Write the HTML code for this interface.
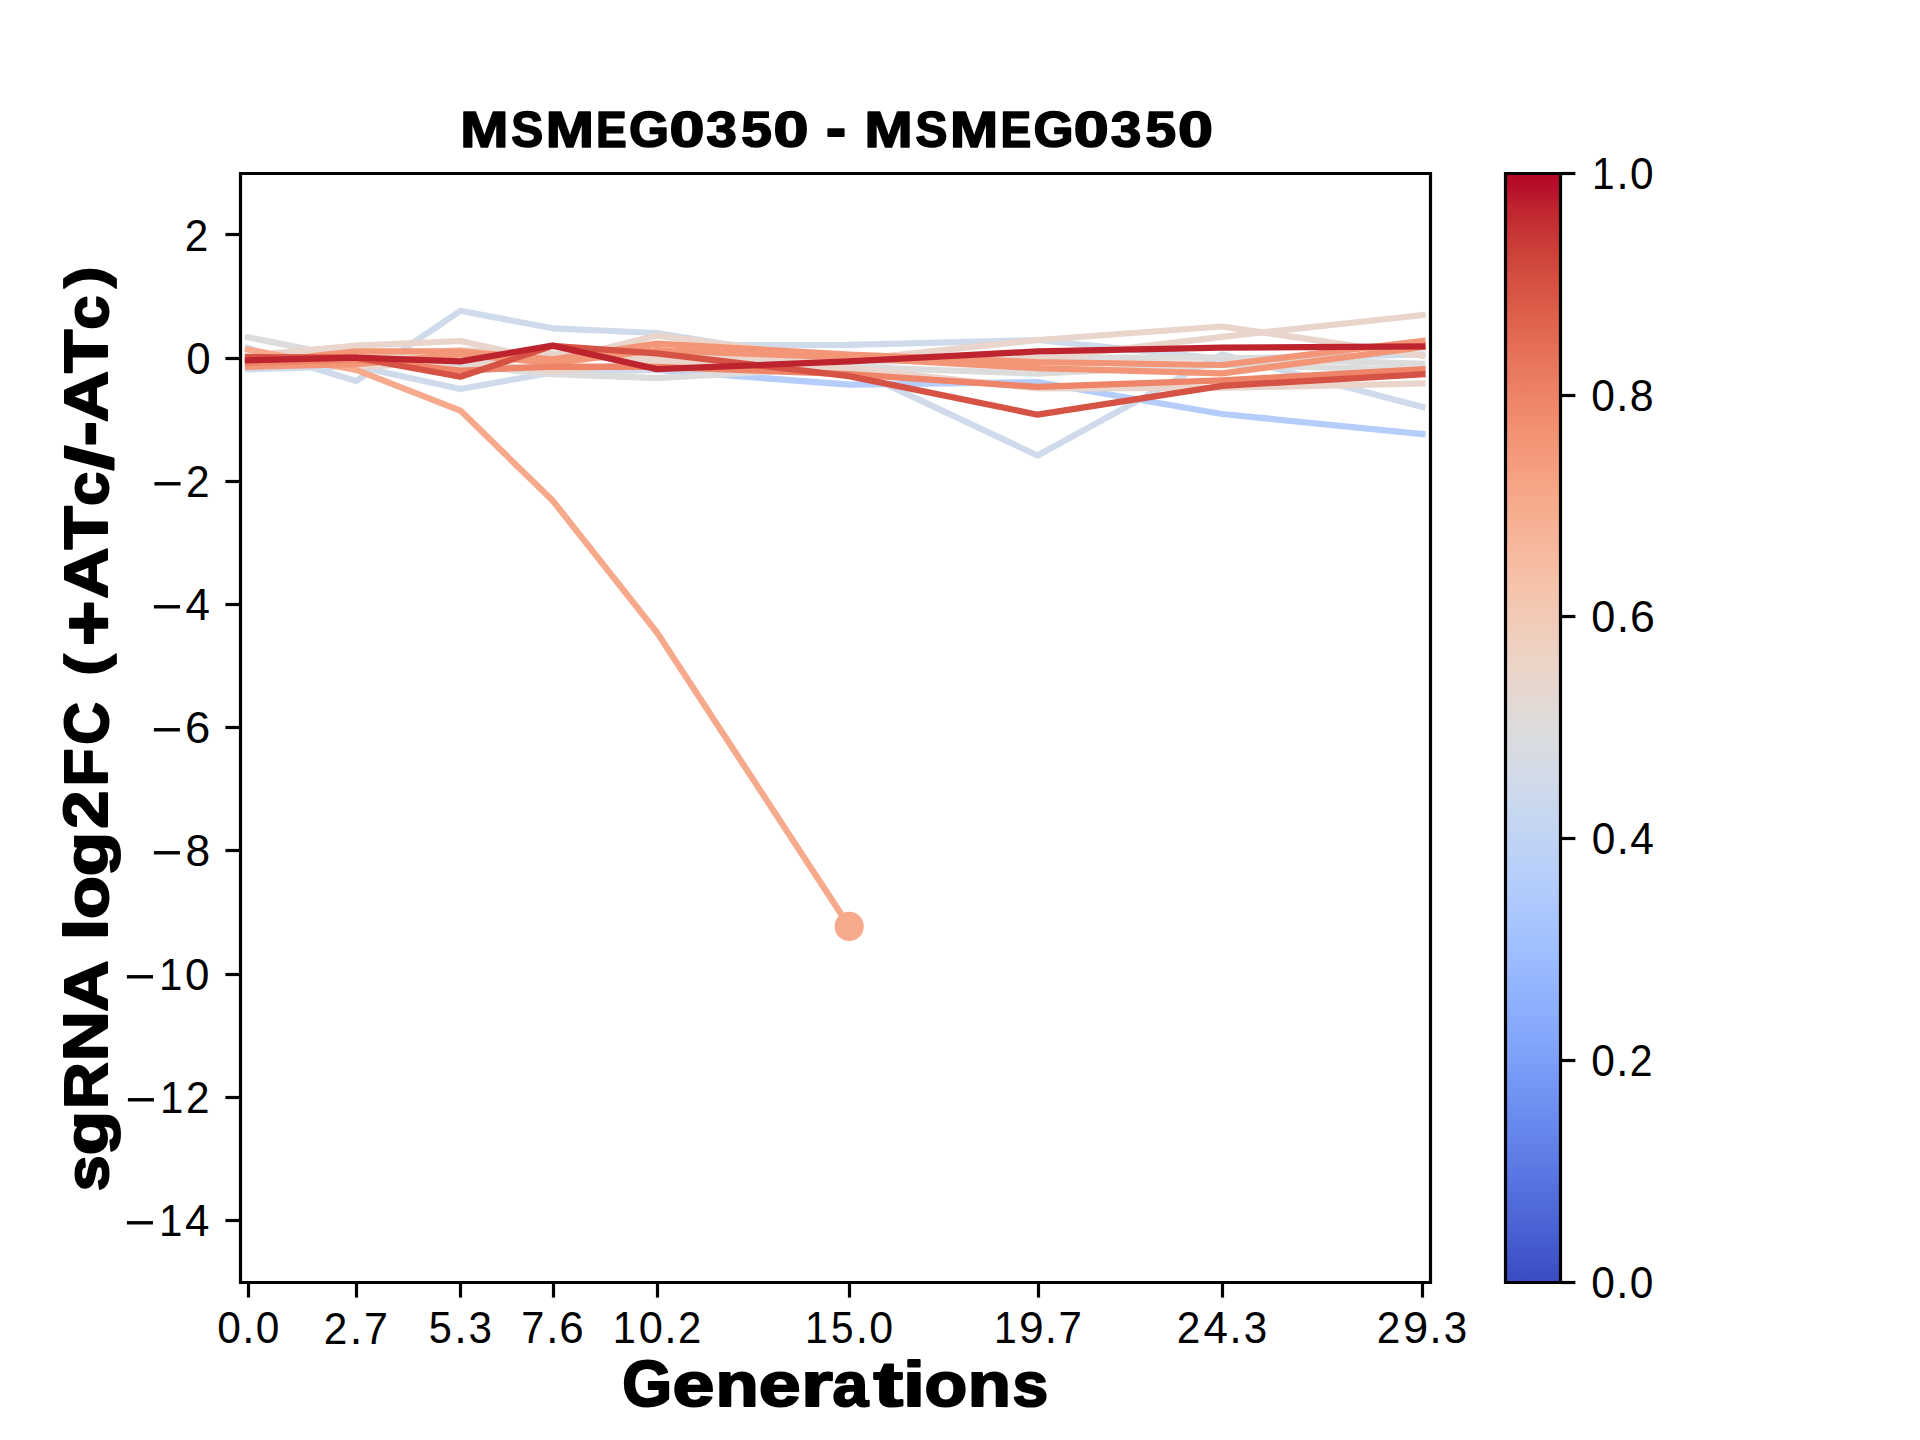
<!DOCTYPE html><html><head><meta charset="utf-8"><title>MSMEG0350</title><style>html,body{margin:0;padding:0;background:#fff;width:1920px;height:1440px;overflow:hidden;}svg{display:block;}</style></head><body><svg width="1920" height="1440" viewBox="0 0 1920 1440">
<defs><linearGradient id="cb" x1="0" y1="1" x2="0" y2="0">
<stop offset="0.0000" stop-color="#3b4cc0"/>
<stop offset="0.0156" stop-color="#3f53c6"/>
<stop offset="0.0312" stop-color="#445acc"/>
<stop offset="0.0469" stop-color="#4961d2"/>
<stop offset="0.0625" stop-color="#4e68d8"/>
<stop offset="0.0781" stop-color="#536edd"/>
<stop offset="0.0938" stop-color="#5875e1"/>
<stop offset="0.1094" stop-color="#5d7ce6"/>
<stop offset="0.1250" stop-color="#6282ea"/>
<stop offset="0.1406" stop-color="#6788ee"/>
<stop offset="0.1562" stop-color="#6c8ff1"/>
<stop offset="0.1719" stop-color="#7295f4"/>
<stop offset="0.1875" stop-color="#779af7"/>
<stop offset="0.2031" stop-color="#7da0f9"/>
<stop offset="0.2188" stop-color="#82a6fb"/>
<stop offset="0.2344" stop-color="#88abfd"/>
<stop offset="0.2500" stop-color="#8db0fe"/>
<stop offset="0.2656" stop-color="#93b5fe"/>
<stop offset="0.2812" stop-color="#98b9ff"/>
<stop offset="0.2969" stop-color="#9ebeff"/>
<stop offset="0.3125" stop-color="#a3c2fe"/>
<stop offset="0.3281" stop-color="#a9c6fd"/>
<stop offset="0.3438" stop-color="#aec9fc"/>
<stop offset="0.3594" stop-color="#b3cdfb"/>
<stop offset="0.3750" stop-color="#b9d0f9"/>
<stop offset="0.3906" stop-color="#bed2f6"/>
<stop offset="0.4062" stop-color="#c3d5f4"/>
<stop offset="0.4219" stop-color="#c7d7f0"/>
<stop offset="0.4375" stop-color="#ccd9ed"/>
<stop offset="0.4531" stop-color="#d1dae9"/>
<stop offset="0.4688" stop-color="#d5dbe5"/>
<stop offset="0.4844" stop-color="#d9dce1"/>
<stop offset="0.5000" stop-color="#dddcdc"/>
<stop offset="0.5156" stop-color="#e1dad6"/>
<stop offset="0.5312" stop-color="#e5d8d1"/>
<stop offset="0.5469" stop-color="#e9d5cb"/>
<stop offset="0.5625" stop-color="#ecd3c5"/>
<stop offset="0.5781" stop-color="#efcfbf"/>
<stop offset="0.5938" stop-color="#f1ccb8"/>
<stop offset="0.6094" stop-color="#f3c8b2"/>
<stop offset="0.6250" stop-color="#f5c4ac"/>
<stop offset="0.6406" stop-color="#f6bfa6"/>
<stop offset="0.6562" stop-color="#f7ba9f"/>
<stop offset="0.6719" stop-color="#f7b599"/>
<stop offset="0.6875" stop-color="#f7b093"/>
<stop offset="0.7031" stop-color="#f7aa8c"/>
<stop offset="0.7188" stop-color="#f6a586"/>
<stop offset="0.7344" stop-color="#f59f80"/>
<stop offset="0.7500" stop-color="#f4987a"/>
<stop offset="0.7656" stop-color="#f29274"/>
<stop offset="0.7812" stop-color="#f08b6e"/>
<stop offset="0.7969" stop-color="#ee8468"/>
<stop offset="0.8125" stop-color="#eb7d62"/>
<stop offset="0.8281" stop-color="#e8765c"/>
<stop offset="0.8438" stop-color="#e46e56"/>
<stop offset="0.8594" stop-color="#e16751"/>
<stop offset="0.8750" stop-color="#dd5f4b"/>
<stop offset="0.8906" stop-color="#d85646"/>
<stop offset="0.9062" stop-color="#d44e41"/>
<stop offset="0.9219" stop-color="#cf453c"/>
<stop offset="0.9375" stop-color="#ca3b37"/>
<stop offset="0.9531" stop-color="#c43032"/>
<stop offset="0.9688" stop-color="#be242e"/>
<stop offset="0.9844" stop-color="#b8122a"/>
<stop offset="1.0000" stop-color="#b40426"/>
</linearGradient><clipPath id="axc"><rect x="240.00" y="172.80" width="1190.40" height="1108.80"/></clipPath></defs>
<rect width="1920" height="1440" fill="#fff"/>
<g clip-path="url(#axc)" fill="none" stroke-width="6.25" stroke-linejoin="round" stroke-linecap="square">
<polyline stroke="#b5cdfa" points="248.0,366.7 356.2,359.4 460.4,370.5 552.6,366.6 656.8,369.9 849.2,384.7 1037.6,382.2 1222.0,414.0 1422.4,434.0"/>
<polyline stroke="#cfdaea" points="248.0,348.1 356.2,381.0 460.4,310.8 552.6,328.3 656.8,333.0 731.8,345.1 849.2,344.9 1037.6,340.0 1222.0,358.8 1422.4,354.5"/>
<polyline stroke="#cfdaea" points="248.0,369.3 356.2,366.2 460.4,389.0 552.6,372.4 656.8,369.9 849.2,366.8 1037.6,455.5 1222.0,354.5 1422.4,406.9"/>
<polyline stroke="#dddcdc" points="248.0,337.3 356.2,358.8 460.4,365.0 552.6,374.2 656.8,378.2 849.2,366.8 1037.6,373.6 1222.0,365.0 1422.4,369.9"/>
<polyline stroke="#dddcdc" points="248.0,357.6 356.2,358.8 460.4,361.3 552.6,353.9 656.8,362.2 849.2,362.5 1037.6,357.6 1222.0,357.6 1422.4,363.8"/>
<polyline stroke="#e9d5cb" points="248.0,357.6 356.2,367.5 460.4,360.7 552.6,371.2 656.8,362.2 849.2,368.1 1037.6,388.4 1222.0,387.8 1422.4,383.5"/>
<polyline stroke="#e9d5cb" points="248.0,355.8 356.2,345.6 460.4,341.0 552.6,361.3 656.8,335.6 849.2,360.1 1037.6,340.0 1222.0,326.5 1422.4,355.8"/>
<polyline stroke="#e9d5cb" points="248.0,357.6 356.2,357.6 460.4,350.2 552.6,353.9 656.8,357.6 849.2,357.6 1037.6,358.8 1222.0,336.9 1422.4,315.1"/>
<polyline stroke="#f7a98b" points="248.0,349.6 356.2,369.9 460.4,410.6 552.6,500.5 656.8,632.3 849.2,926.4"/>
<circle cx="849.2" cy="926.4" r="14.6" fill="#f7a98b" stroke="none"/>
<polyline stroke="#f39577" points="248.0,363.1 356.2,351.4 460.4,351.4 552.6,359.4 656.8,343.7 849.2,354.5 1037.6,362.2 1222.0,365.0 1422.4,341.0"/>
<polyline stroke="#f39577" points="248.0,366.7 356.2,364.1 460.4,354.5 552.6,363.1 656.8,350.2 849.2,357.6 1037.6,368.1 1222.0,373.3 1422.4,347.1"/>
<polyline stroke="#ee8468" points="248.0,363.1 356.2,359.4 460.4,370.5 552.6,366.6 656.8,366.8 849.2,374.2 1037.6,386.9 1222.0,380.4 1422.4,369.3"/>
<polyline stroke="#d65244" points="248.0,357.0 356.2,357.6 460.4,376.7 552.6,345.9 656.8,353.3 849.2,376.1 1037.6,414.7 1222.0,385.9 1422.4,374.2"/>
<polyline stroke="#be242e" points="248.0,360.3 356.2,357.6 460.4,361.3 552.6,345.6 656.8,369.1 849.2,361.3 1037.6,351.4 1222.0,347.7 1422.4,346.5"/>
</g>
<path d="M240.50 173.50L1430.50 173.50L1430.50 1282.50L240.50 1282.50Z" fill="none" stroke="#000" stroke-width="3.20" stroke-linejoin="miter" stroke-linecap="square"/>
<line x1="248.50" y1="1282.50" x2="248.50" y2="1297.58" stroke="#000" stroke-width="3.20"/>
<line x1="356.50" y1="1282.50" x2="356.50" y2="1297.58" stroke="#000" stroke-width="3.20"/>
<line x1="460.50" y1="1282.50" x2="460.50" y2="1297.58" stroke="#000" stroke-width="3.20"/>
<line x1="553.50" y1="1282.50" x2="553.50" y2="1297.58" stroke="#000" stroke-width="3.20"/>
<line x1="657.50" y1="1282.50" x2="657.50" y2="1297.58" stroke="#000" stroke-width="3.20"/>
<line x1="849.50" y1="1282.50" x2="849.50" y2="1297.58" stroke="#000" stroke-width="3.20"/>
<line x1="1038.50" y1="1282.50" x2="1038.50" y2="1297.58" stroke="#000" stroke-width="3.20"/>
<line x1="1222.50" y1="1282.50" x2="1222.50" y2="1297.58" stroke="#000" stroke-width="3.20"/>
<line x1="1422.50" y1="1282.50" x2="1422.50" y2="1297.58" stroke="#000" stroke-width="3.20"/>
<line x1="225.42" y1="1220.50" x2="240.50" y2="1220.50" stroke="#000" stroke-width="3.20"/>
<line x1="225.42" y1="1097.50" x2="240.50" y2="1097.50" stroke="#000" stroke-width="3.20"/>
<line x1="225.42" y1="974.50" x2="240.50" y2="974.50" stroke="#000" stroke-width="3.20"/>
<line x1="225.42" y1="850.50" x2="240.50" y2="850.50" stroke="#000" stroke-width="3.20"/>
<line x1="225.42" y1="727.50" x2="240.50" y2="727.50" stroke="#000" stroke-width="3.20"/>
<line x1="225.42" y1="604.50" x2="240.50" y2="604.50" stroke="#000" stroke-width="3.20"/>
<line x1="225.42" y1="481.50" x2="240.50" y2="481.50" stroke="#000" stroke-width="3.20"/>
<line x1="225.42" y1="358.50" x2="240.50" y2="358.50" stroke="#000" stroke-width="3.20"/>
<line x1="225.42" y1="234.50" x2="240.50" y2="234.50" stroke="#000" stroke-width="3.20"/>
<rect x="1505.50" y="173.50" width="55.00" height="1109.00" fill="url(#cb)"/>
<path d="M1505.50 173.50L1560.50 173.50L1560.50 1282.50L1505.50 1282.50Z" fill="none" stroke="#000" stroke-width="3.20" stroke-linejoin="miter" stroke-linecap="square"/>
<line x1="1560.50" y1="1282.50" x2="1575.38" y2="1282.50" stroke="#000" stroke-width="3.20"/>
<line x1="1560.50" y1="1060.50" x2="1575.38" y2="1060.50" stroke="#000" stroke-width="3.20"/>
<line x1="1560.50" y1="838.50" x2="1575.38" y2="838.50" stroke="#000" stroke-width="3.20"/>
<line x1="1560.50" y1="616.50" x2="1575.38" y2="616.50" stroke="#000" stroke-width="3.20"/>
<line x1="1560.50" y1="395.50" x2="1575.38" y2="395.50" stroke="#000" stroke-width="3.20"/>
<line x1="1560.50" y1="173.50" x2="1575.38" y2="173.50" stroke="#000" stroke-width="3.20"/>
<g transform="translate(219.00,1342.50)" font-family="&quot;Liberation Sans&quot;, sans-serif" font-size="41.67">
<text transform="translate(-1.66,0.16) scale(1.0196,1.0683)">0</text><text transform="translate(23.31,0.00) scale(1.0466,1.1598)">.</text><text transform="translate(36.79,0.16) scale(1.0196,1.0683)">0</text></g>
<g transform="translate(326.00,1343.50)" font-family="&quot;Liberation Sans&quot;, sans-serif" font-size="41.67">
<text transform="translate(-2.13,0.00) scale(1.0161,1.0629)">2</text><text transform="translate(23.80,0.00) scale(1.0821,1.1598)">.</text><text transform="translate(37.92,0.00) scale(1.0311,1.0596)">7</text></g>
<g transform="translate(430.50,1342.50)" font-family="&quot;Liberation Sans&quot;, sans-serif" font-size="41.67">
<text transform="translate(-1.66,0.16) scale(0.9949,1.0651)">5</text><text transform="translate(23.63,0.00) scale(1.0821,1.1598)">.</text><text transform="translate(38.11,0.16) scale(1.0124,1.0683)">3</text></g>
<g transform="translate(523.50,1342.50)" font-family="&quot;Liberation Sans&quot;, sans-serif" font-size="41.67">
<text transform="translate(-2.13,0.00) scale(0.9973,1.0596)">7</text><text transform="translate(22.66,0.00) scale(1.0466,1.1598)">.</text><text transform="translate(35.73,0.16) scale(1.0552,1.0683)">6</text></g>
<g transform="translate(616.00,1342.50)" font-family="&quot;Liberation Sans&quot;, sans-serif" font-size="41.67">
<text transform="translate(-3.16,0.00) scale(0.9951,1.0596)">1</text><text transform="translate(22.70,0.16) scale(1.0419,1.0683)">0</text><text transform="translate(48.21,0.00) scale(1.0695,1.1598)">.</text><text transform="translate(61.88,0.00) scale(1.0043,1.0629)">2</text></g>
<g transform="translate(808.00,1342.50)" font-family="&quot;Liberation Sans&quot;, sans-serif" font-size="41.67">
<text transform="translate(-3.12,0.00) scale(0.9834,1.0596)">1</text><text transform="translate(22.94,0.16) scale(0.9717,1.0651)">5</text><text transform="translate(47.65,0.00) scale(1.0569,1.1598)">.</text><text transform="translate(61.26,0.16) scale(1.0296,1.0683)">0</text></g>
<g transform="translate(997.00,1342.50)" font-family="&quot;Liberation Sans&quot;, sans-serif" font-size="41.67">
<text transform="translate(-3.12,0.00) scale(0.9831,1.0596)">1</text><text transform="translate(21.90,0.16) scale(1.0632,1.0683)">9</text><text transform="translate(47.63,0.00) scale(1.0566,1.1598)">.</text><text transform="translate(61.42,0.00) scale(1.0069,1.0596)">7</text></g>
<g transform="translate(1179.00,1342.50)" font-family="&quot;Liberation Sans&quot;, sans-serif" font-size="41.67">
<text transform="translate(-2.13,0.00) scale(1.0161,1.0629)">2</text><text transform="translate(24.48,0.00) scale(1.0543,1.0596)">4</text><text transform="translate(50.31,0.00) scale(1.0821,1.1598)">.</text><text transform="translate(64.78,0.16) scale(1.0124,1.0683)">3</text></g>
<g transform="translate(1379.00,1342.50)" font-family="&quot;Liberation Sans&quot;, sans-serif" font-size="41.67">
<text transform="translate(-2.13,0.00) scale(1.0161,1.0629)">2</text><text transform="translate(23.96,0.16) scale(1.0888,1.0683)">9</text><text transform="translate(50.31,0.00) scale(1.0821,1.1598)">.</text><text transform="translate(64.78,0.16) scale(1.0124,1.0683)">3</text></g>
<g transform="translate(127.00,1235.50)" font-family="&quot;Liberation Sans&quot;, sans-serif" font-size="41.67">
<text transform="translate(-2.65,3.07) scale(1.2884,1.1644)">−</text><text transform="translate(31.88,0.00) scale(1.0068,1.0596)">1</text><text transform="translate(58.03,0.00) scale(1.0543,1.0596)">4</text></g>
<g transform="translate(128.00,1112.50)" font-family="&quot;Liberation Sans&quot;, sans-serif" font-size="41.67">
<text transform="translate(-2.65,3.07) scale(1.2889,1.1644)">−</text><text transform="translate(31.89,0.00) scale(1.0071,1.0596)">1</text><text transform="translate(57.95,0.00) scale(1.0164,1.0629)">2</text></g>
<g transform="translate(127.00,989.50)" font-family="&quot;Liberation Sans&quot;, sans-serif" font-size="41.67">
<text transform="translate(-2.65,3.07) scale(1.2888,1.1644)">−</text><text transform="translate(31.89,0.00) scale(1.0071,1.0596)">1</text><text transform="translate(58.06,0.16) scale(1.0545,1.0683)">0</text></g>
<g transform="translate(154.00,865.50)" font-family="&quot;Liberation Sans&quot;, sans-serif" font-size="41.67">
<text transform="translate(-2.65,3.07) scale(1.2884,1.1644)">−</text><text transform="translate(31.40,0.16) scale(1.0656,1.0683)">8</text></g>
<g transform="translate(154.00,742.50)" font-family="&quot;Liberation Sans&quot;, sans-serif" font-size="41.67">
<text transform="translate(-2.65,3.07) scale(1.2884,1.1644)">−</text><text transform="translate(31.10,0.16) scale(1.0910,1.0683)">6</text></g>
<g transform="translate(154.00,619.50)" font-family="&quot;Liberation Sans&quot;, sans-serif" font-size="41.67">
<text transform="translate(-2.65,3.07) scale(1.2893,1.1644)">−</text><text transform="translate(31.55,0.00) scale(1.0550,1.0596)">4</text></g>
<g transform="translate(154.50,496.50)" font-family="&quot;Liberation Sans&quot;, sans-serif" font-size="41.67">
<text transform="translate(-2.66,3.07) scale(1.2923,1.1644)">−</text><text transform="translate(31.51,0.00) scale(1.0191,1.0629)">2</text></g>
<g transform="translate(188.00,373.50)" font-family="&quot;Liberation Sans&quot;, sans-serif" font-size="41.67">
<text transform="translate(-1.72,0.16) scale(1.0541,1.0683)">0</text></g>
<g transform="translate(187.00,250.50)" font-family="&quot;Liberation Sans&quot;, sans-serif" font-size="41.67">
<text transform="translate(-2.13,0.00) scale(1.0161,1.0629)">2</text></g>
<g transform="translate(1593.00,1297.50)" font-family="&quot;Liberation Sans&quot;, sans-serif" font-size="41.67">
<text transform="translate(-1.66,0.16) scale(1.0196,1.0683)">0</text><text transform="translate(23.31,0.00) scale(1.0466,1.1598)">.</text><text transform="translate(36.79,0.16) scale(1.0196,1.0683)">0</text></g>
<g transform="translate(1593.00,1075.50)" font-family="&quot;Liberation Sans&quot;, sans-serif" font-size="41.67">
<text transform="translate(-1.66,0.16) scale(1.0190,1.0683)">0</text><text transform="translate(23.30,0.00) scale(1.0460,1.1598)">.</text><text transform="translate(36.67,0.00) scale(0.9822,1.0629)">2</text></g>
<g transform="translate(1593.50,853.50)" font-family="&quot;Liberation Sans&quot;, sans-serif" font-size="41.67">
<text transform="translate(-1.66,0.16) scale(1.0201,1.0683)">0</text><text transform="translate(23.32,0.00) scale(1.0471,1.1598)">.</text><text transform="translate(36.81,0.00) scale(1.0203,1.0596)">4</text></g>
<g transform="translate(1593.00,631.50)" font-family="&quot;Liberation Sans&quot;, sans-serif" font-size="41.67">
<text transform="translate(-1.69,0.16) scale(1.0369,1.0683)">0</text><text transform="translate(23.71,0.00) scale(1.0643,1.1598)">.</text><text transform="translate(36.99,0.16) scale(1.0731,1.0683)">6</text></g>
<g transform="translate(1593.00,410.50)" font-family="&quot;Liberation Sans&quot;, sans-serif" font-size="41.67">
<text transform="translate(-1.66,0.16) scale(1.0196,1.0683)">0</text><text transform="translate(23.31,0.00) scale(1.0466,1.1598)">.</text><text transform="translate(36.66,0.16) scale(1.0306,1.0683)">8</text></g>
<g transform="translate(1595.00,188.50)" font-family="&quot;Liberation Sans&quot;, sans-serif" font-size="41.67">
<text transform="translate(-3.09,0.00) scale(0.9727,1.0596)">1</text><text transform="translate(21.52,0.00) scale(1.0454,1.1598)">.</text><text transform="translate(34.98,0.16) scale(1.0184,1.0683)">0</text></g>
<g transform="translate(464.00,146.50)" font-family="&quot;Liberation Sans&quot;, sans-serif" font-size="50.00" font-weight="bold" stroke="#000" stroke-width="1.60" stroke-linejoin="round">
<text transform="translate(-3.87,0.00) scale(1.1568,1.0053)">M</text><text transform="translate(47.25,0.18) scale(0.9575,1.0135)">S</text><text transform="translate(81.67,0.00) scale(1.1568,1.0053)">M</text><text transform="translate(132.08,0.00) scale(0.9209,1.0053)">E</text><text transform="translate(165.02,0.18) scale(1.0305,1.0135)">G</text><text transform="translate(205.48,0.18) scale(1.2584,1.0135)">0</text><text transform="translate(242.35,0.10) scale(1.1022,1.0114)">3</text><text transform="translate(277.13,0.18) scale(1.1001,1.0105)">5</text><text transform="translate(309.57,0.18) scale(1.2584,1.0135)">0</text><text> </text><text transform="translate(362.08,1.01) scale(1.2045,1.1315)">-</text><text> </text><text transform="translate(400.49,0.00) scale(1.1568,1.0053)">M</text><text transform="translate(451.61,0.18) scale(0.9575,1.0135)">S</text><text transform="translate(486.03,0.00) scale(1.1568,1.0053)">M</text><text transform="translate(536.44,0.00) scale(0.9209,1.0053)">E</text><text transform="translate(569.38,0.18) scale(1.0305,1.0135)">G</text><text transform="translate(609.84,0.18) scale(1.2584,1.0135)">0</text><text transform="translate(646.71,0.10) scale(1.1022,1.0114)">3</text><text transform="translate(681.49,0.18) scale(1.1001,1.0105)">5</text><text transform="translate(713.93,0.18) scale(1.2584,1.0135)">0</text></g>
<g transform="translate(625.00,1406.10)" font-family="&quot;Liberation Sans&quot;, sans-serif" font-size="62.50" font-weight="bold" stroke="#000" stroke-width="2.00" stroke-linejoin="round">
<text transform="translate(-2.63,0.22) scale(1.0260,1.0251)">G</text><text transform="translate(47.57,0.24) scale(1.2068,1.0058)">e</text><text transform="translate(90.49,0.00) scale(1.1305,0.9979)">n</text><text transform="translate(133.84,0.24) scale(1.2068,1.0058)">e</text><text transform="translate(176.03,0.00) scale(1.3093,0.9979)">r</text><text transform="translate(207.60,0.24) scale(1.0303,1.0058)">a</text><text transform="translate(248.43,-0.56) scale(1.4219,1.0191)">t</text><text transform="translate(278.05,0.00) scale(1.2651,1.0062)">i</text><text transform="translate(299.57,0.24) scale(1.1204,1.0058)">o</text><text transform="translate(342.83,0.00) scale(1.1305,0.9979)">n</text><text transform="translate(387.41,0.24) scale(1.0263,1.0049)">s</text></g>
<g transform="translate(107.40,1189.00) rotate(-90)" font-family="&quot;Liberation Sans&quot;, sans-serif" font-size="62.50" font-weight="bold" stroke="#000" stroke-width="2.00" stroke-linejoin="round">
<text transform="translate(-2.27,0.23) scale(1.0313,0.9805)">s</text><text transform="translate(33.71,-0.17) scale(1.1645,0.9667)">g</text><text transform="translate(79.93,0.00) scale(1.0347,0.9921)">R</text><text transform="translate(127.64,0.00) scale(1.1089,0.9921)">N</text><text transform="translate(177.29,0.00) scale(1.1365,0.9921)">A</text><text> </text><text transform="translate(248.42,0.00) scale(1.2713,0.9817)">l</text><text transform="translate(270.04,0.23) scale(1.1259,0.9813)">o</text><text transform="translate(312.77,-0.17) scale(1.1645,0.9667)">g</text><text transform="translate(360.15,0.00) scale(1.0980,0.9952)">2</text><text transform="translate(402.54,0.00) scale(0.9978,0.9921)">F</text><text transform="translate(444.27,0.22) scale(0.9464,1.0002)">C</text><text> </text><text transform="translate(513.22,-3.89) scale(1.0289,0.8946)">(</text><text transform="translate(542.91,5.68) scale(1.2456,1.1559)">+</text><text transform="translate(590.36,0.00) scale(1.1365,0.9921)">A</text><text transform="translate(639.59,0.00) scale(1.1385,0.9921)">T</text><text transform="translate(682.90,0.23) scale(0.9878,0.9813)">c</text><text transform="translate(718.74,4.14) scale(1.4109,1.0333)">/</text><text transform="translate(742.81,1.25) scale(1.2051,1.1166)">-</text><text transform="translate(766.80,0.00) scale(1.1365,0.9921)">A</text><text transform="translate(816.03,0.00) scale(1.1385,0.9921)">T</text><text transform="translate(859.33,0.23) scale(0.9878,0.9813)">c</text><text transform="translate(900.97,-3.89) scale(1.0289,0.8946)">)</text></g>
</svg></body></html>
